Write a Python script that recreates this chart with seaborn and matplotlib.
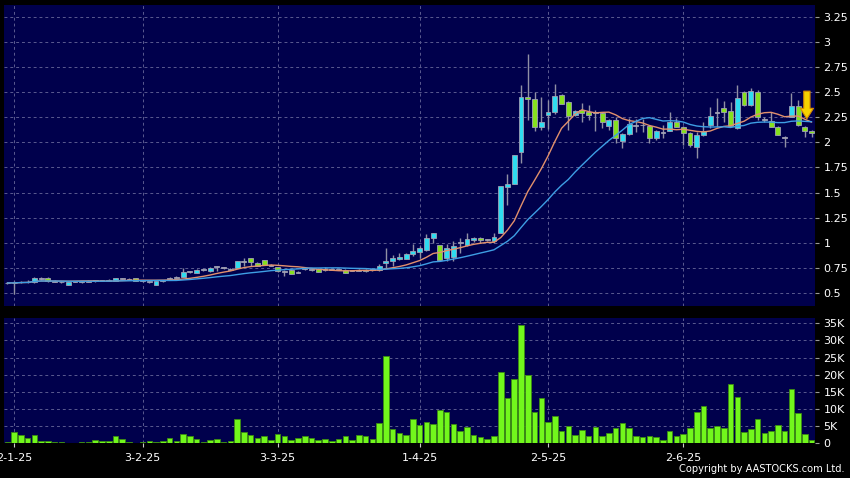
import numpy as np
import pandas as pd
import matplotlib
matplotlib.use("Agg")
import matplotlib.pyplot as plt
from matplotlib.ticker import FuncFormatter
import seaborn as sns

# ---------------------------------------------------------
# Daily data (31-12-24 .. 27-6-25)
# ---------------------------------------------------------
opens = [0.60, 0.60, 0.61, 0.61, 0.605, 0.645, 0.65, 0.617, 0.61, 0.58,
         0.613, 0.607, 0.617, 0.62, 0.623, 0.627, 0.623, 0.643, 0.637, 0.647,
         0.62, 0.613, 0.583, 0.617, 0.64, 0.657, 0.66, 0.71, 0.70, 0.73,
         0.717, 0.767, 0.75, 0.73, 0.75, 0.817, 0.85, 0.80, 0.827, 0.777,
         0.757, 0.717, 0.733, 0.707, 0.74, 0.733, 0.74, 0.737, 0.733, 0.733,
         0.733, 0.723, 0.727, 0.733, 0.73, 0.727, 0.80, 0.823, 0.837, 0.843,
         0.883, 0.91, 0.923, 1.043, 0.977, 0.85, 0.857, 1.0, 0.977, 1.027,
         1.05, 1.033, 1.017, 1.097, 1.557, 1.59, 1.90, 2.45, 2.43, 2.15,
         2.273, 2.307, 2.467, 2.40, 2.273, 2.323, 2.307, 2.30, 2.29, 2.167,
         2.223, 2.013, 2.08, 2.17, 2.173, 2.163, 2.04, 2.10, 2.117, 2.207,
         2.157, 2.09, 1.95, 2.073, 2.17, 2.30, 2.347, 2.313, 2.14, 2.50,
         2.373, 2.50, 2.23, 2.217, 2.15, 2.05, 2.257, 2.367, 2.157, 2.113]
highs = [0.61, 0.617, 0.62, 0.63, 0.655, 0.66, 0.655, 0.625, 0.62, 0.61,
         0.62, 0.62, 0.625, 0.633, 0.63, 0.635, 0.65, 0.65, 0.65, 0.65,
         0.625, 0.62, 0.62, 0.63, 0.66, 0.665, 0.75, 0.72, 0.74, 0.74,
         0.755, 0.77, 0.755, 0.75, 0.82, 0.85, 0.853, 0.81, 0.83, 0.785,
         0.76, 0.73, 0.737, 0.715, 0.745, 0.74, 0.745, 0.757, 0.74, 0.74,
         0.737, 0.73, 0.735, 0.737, 0.735, 0.793, 0.943, 0.877, 0.90, 0.90,
         0.983, 0.967, 1.09, 1.10, 0.98, 0.99, 1.02, 1.05, 1.10, 1.06,
         1.06, 1.04, 1.10, 1.567, 1.683, 1.873, 2.573, 2.883, 2.50, 2.45,
         2.423, 2.583, 2.48, 2.41, 2.32, 2.39, 2.373, 2.32, 2.30, 2.233,
         2.257, 2.09, 2.24, 2.23, 2.233, 2.17, 2.123, 2.17, 2.307, 2.24,
         2.16, 2.10, 2.10, 2.207, 2.357, 2.44, 2.407, 2.40, 2.573, 2.51,
         2.54, 2.52, 2.25, 2.307, 2.16, 2.06, 2.49, 2.42, 2.16, 2.12]
lows = [0.59, 0.493, 0.60, 0.60, 0.60, 0.63, 0.61, 0.61, 0.60, 0.575,
        0.605, 0.60, 0.61, 0.61, 0.615, 0.62, 0.62, 0.635, 0.625, 0.62,
        0.61, 0.60, 0.58, 0.61, 0.63, 0.65, 0.655, 0.70, 0.695, 0.72,
        0.71, 0.717, 0.74, 0.725, 0.745, 0.773, 0.767, 0.77, 0.78, 0.77,
        0.71, 0.667, 0.685, 0.70, 0.73, 0.72, 0.705, 0.717, 0.725, 0.725,
        0.695, 0.715, 0.72, 0.71, 0.72, 0.72, 0.75, 0.767, 0.83, 0.84,
        0.867, 0.85, 0.917, 1.0, 0.823, 0.823, 0.817, 0.90, 0.97, 1.01,
        1.0, 1.02, 1.0, 1.095, 1.373, 1.585, 1.797, 2.223, 2.117, 2.123,
        2.13, 2.28, 2.38, 2.123, 2.26, 2.207, 2.223, 2.117, 2.14, 2.123,
        1.99, 1.94, 2.07, 2.10, 2.107, 1.99, 2.02, 2.04, 2.11, 2.15,
        1.973, 1.95, 1.84, 2.06, 2.14, 2.157, 2.207, 2.16, 2.13, 2.36,
        2.36, 2.22, 2.20, 2.15, 2.07, 1.957, 2.25, 2.16, 2.05, 2.05]
closes = [0.60, 0.60, 0.61, 0.61, 0.65, 0.645, 0.617, 0.617, 0.61, 0.607,
          0.613, 0.617, 0.617, 0.62, 0.623, 0.627, 0.647, 0.643, 0.637, 0.623,
          0.62, 0.613, 0.617, 0.627, 0.64, 0.657, 0.71, 0.71, 0.733, 0.73,
          0.75, 0.767, 0.75, 0.743, 0.817, 0.817, 0.807, 0.773, 0.783, 0.777,
          0.717, 0.717, 0.69, 0.707, 0.74, 0.733, 0.71, 0.737, 0.733, 0.733,
          0.70, 0.723, 0.727, 0.717, 0.73, 0.773, 0.823, 0.85, 0.857, 0.89,
          0.917, 0.943, 1.05, 1.10, 0.833, 0.95, 0.967, 1.0, 1.033, 1.05,
          1.023, 1.033, 1.057, 1.567, 1.583, 1.873, 2.45, 2.43, 2.15, 2.20,
          2.307, 2.457, 2.383, 2.263, 2.313, 2.29, 2.273, 2.30, 2.20, 2.223,
          2.04, 2.08, 2.18, 2.17, 2.173, 2.04, 2.11, 2.10, 2.207, 2.157,
          2.09, 1.973, 2.073, 2.117, 2.263, 2.30, 2.307, 2.163, 2.44, 2.373,
          2.507, 2.25, 2.23, 2.157, 2.073, 2.05, 2.367, 2.173, 2.117, 2.09]
volumes = [500, 3400, 2400, 1500, 2400, 800, 800, 300, 500, 200,
           200, 500, 500, 1000, 700, 700, 2100, 1200, 400, 100,
           300, 600, 500, 700, 1600, 600, 2700, 2200, 1400, 400,
           1000, 1200, 300, 600, 7200, 3300, 2500, 1500, 2200, 1000,
           2600, 2000, 1000, 1600, 2200, 1500, 1000, 1400, 700, 1200,
           2100, 1000, 2300, 2100, 1300, 6000, 25600, 4200, 2900, 2400,
           7200, 5200, 6100, 5700, 9700, 9000, 5500, 3700, 4900, 2500,
           1900, 1200, 2000, 20800, 13100, 18900, 34400, 19900, 9000, 13100,
           6300, 8000, 3500, 5000, 2300, 3900, 2000, 4900, 2000, 2900,
           4600, 5800, 4400, 2200, 1700, 2200, 1700, 900, 3700, 2100,
           2800, 4400, 9100, 10800, 4600, 5000, 4400, 17200, 13400, 3400,
           4100, 7000, 3100, 3500, 5300, 3700, 15900, 8800, 2600, 1000]

tick_pos = [1, 20, 40, 61, 80, 100]
tick_labels = ["2-1-25", "3-2-25", "3-3-25", "1-4-25", "2-5-25", "2-6-25"]
price_ticks = [0.5, 0.75, 1, 1.25, 1.5, 1.75, 2, 2.25, 2.5, 2.75, 3, 3.25]
vol_ticks = [0, 5000, 10000, 15000, 20000, 25000, 30000, 35000]

df = pd.DataFrame({"open": opens, "high": highs, "low": lows,
                   "close": closes, "volume": volumes})
df["idx"] = np.arange(len(df))
df["ma10"] = df["close"].rolling(10, min_periods=1).mean()
df["ma20"] = df["close"].rolling(20, min_periods=1).mean()

# ---------------------------------------------------------
# Style
# ---------------------------------------------------------
NAVY = "#00004c"
sns.set_style("dark", {"axes.facecolor": NAVY, "figure.facecolor": "black",
                       "grid.color": "#5a5a90", "grid.linestyle": (0, (3, 3)),
                       "axes.edgecolor": NAVY})
plt.rcParams["font.family"] = ["DejaVu Sans"]

fig = plt.figure(figsize=(8.5, 4.78), dpi=100)
ax = fig.add_axes([4 / 850, 1 - 306 / 478, 811 / 850, 301 / 478])
axv = fig.add_axes([4 / 850, 1 - 443.3 / 478, 811 / 850, 125 / 478])

# ---------------------------------------------------------
# Candles
# ---------------------------------------------------------
up = df["close"] > df["open"]
down = df["close"] < df["open"]
flat = ~(up | down)
body_col = np.where(up, "#2fdcf0", np.where(down, "#86e01e", "#a4a4b0"))
body_h = (df["close"] - df["open"]).abs().clip(lower=0.008)
body_b = np.minimum(df["open"], df["close"])
body_b = np.where(flat, df["close"] - 0.004, body_b)

ax.vlines(df["idx"], df["low"], df["high"], color="#9090a4", lw=1, zorder=2)
ax.bar(df["idx"], body_h, bottom=body_b, width=0.72, color=body_col,
       edgecolor="#a0a0b4", linewidth=0.6, zorder=3)

sns.lineplot(x=df["idx"], y=df["ma10"], ax=ax, color="#e2906c", lw=1, zorder=4)
sns.lineplot(x=df["idx"], y=df["ma20"], ax=ax, color="#3e9ee4", lw=1, zorder=4)

# yellow down arrow on the last days
ax.annotate("", xy=(118.3, 2.235), xytext=(118.3, 2.51),
            arrowprops=dict(arrowstyle="simple,head_width=0.95,head_length=0.75,tail_width=0.45",
                            fc="#f6d200", ec="#d88a00", lw=0.8,
                            shrinkA=0, shrinkB=0, mutation_scale=10), zorder=6)

# ---------------------------------------------------------
# Volume
# ---------------------------------------------------------
sns.barplot(x=df["idx"], y=df["volume"], ax=axv, color="#72f71c",
            saturation=1, width=0.82, edgecolor="#3c8c12", linewidth=0.6,
            native_scale=True, zorder=3)

# ---------------------------------------------------------
# Axes, ticks and grid
# ---------------------------------------------------------
for a in (ax, axv):
    a.set_xlim(-0.5, 119.5)
    a.set_xlabel("")
    a.set_ylabel("")
    a.grid(True, lw=0.7)
    a.set_axisbelow(True)
    for s in a.spines.values():
        s.set_visible(False)
    a.yaxis.tick_right()
    a.set_xticks(tick_pos)
    a.tick_params(axis="y", colors="white", labelsize=8, length=3, pad=3,
                  direction="out", left=False, right=True, color="#9a9a9a")

ax.set_ylim(0.37, 3.368)
ax.set_yticks(price_ticks)
ax.yaxis.set_major_formatter(FuncFormatter(lambda v, p: f"{v:g}"))
ax.tick_params(axis="x", bottom=False, labelbottom=False)

axv.set_ylim(0, 36460)
axv.set_yticks(vol_ticks)
axv.yaxis.set_major_formatter(FuncFormatter(lambda v, p: "0" if v == 0 else f"{v / 1000:g}K"))
axv.set_xticklabels(tick_labels)
axv.tick_params(axis="x", colors="white", labelsize=8, length=3, pad=4,
                bottom=True, color="#cccccc")

fig.text(0.994, 0.008, "Copyright by AASTOCKS.com Ltd.", color="white",
         fontsize=7.1, ha="right", va="bottom")

fig.savefig("out.png", dpi=100, facecolor="black")
